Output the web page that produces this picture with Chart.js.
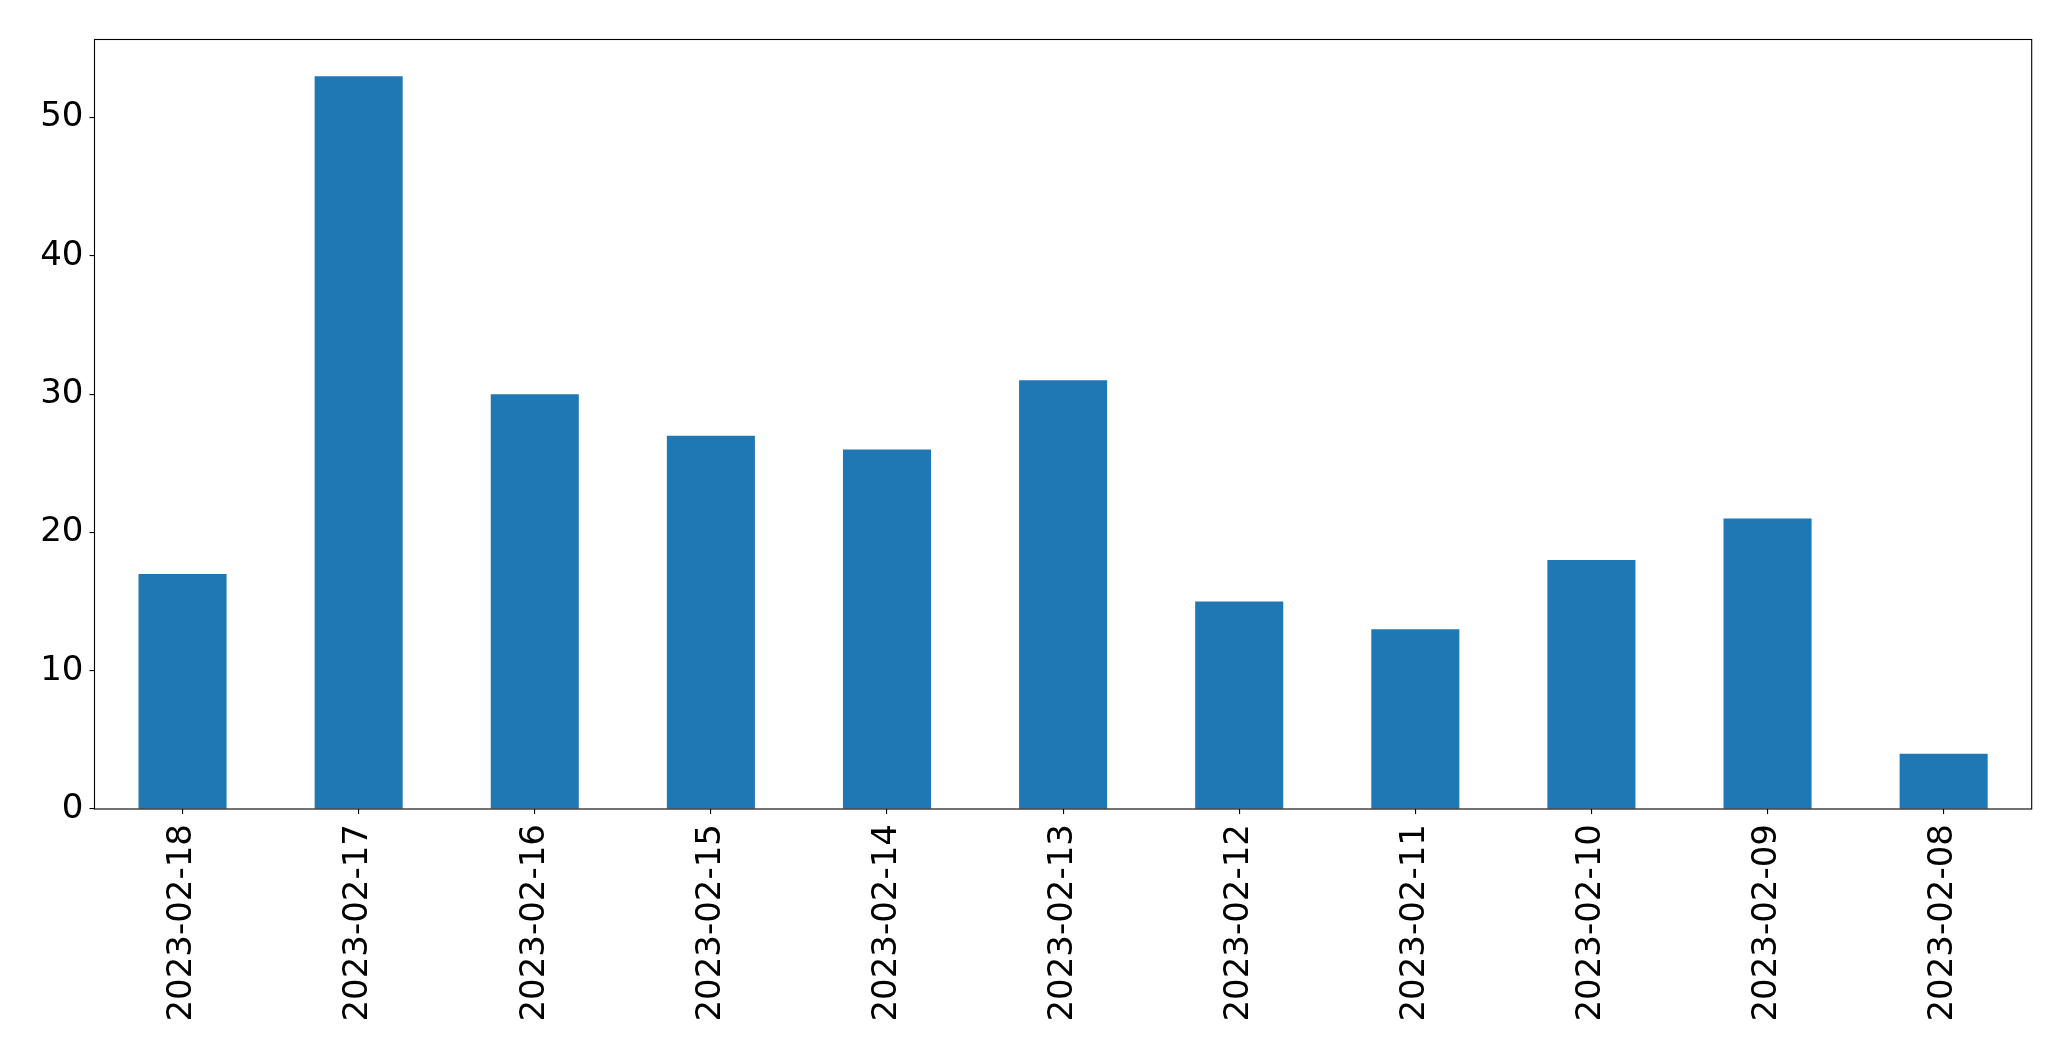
<!DOCTYPE html>
<html>
<head>
<meta charset="utf-8">
<script src="https://cdn.jsdelivr.net/npm/chart.js@4/dist/chart.umd.min.js"></script>
<style>
  html, body { margin: 0; padding: 0; background: #fff; }
  #wrap { width: 2071px; height: 1061px; }
</style>
</head>
<body>
<div id="wrap"><canvas id="chart" width="2071" height="1061"></canvas></div>
<script>
// datos
var categories = ['2023-02-18', '2023-02-17', '2023-02-16', '2023-02-15', '2023-02-14',
                  '2023-02-13', '2023-02-12', '2023-02-11', '2023-02-10', '2023-02-09', '2023-02-08'];
var counts = [17, 53, 30, 27, 26, 31, 15, 13, 18, 21, 4];
var yTicks = [0, 10, 20, 30, 40, 50];
var yMax = 55.65;

// marco completo alrededor del area (como matplotlib)
var framePlugin = {
    id: 'frame',
    afterDraw: function(chart) {
        var a = chart.chartArea;
        var ctx = chart.ctx;
        ctx.save();
        ctx.strokeStyle = '#000';
        ctx.lineWidth = 1.1;
        ctx.strokeRect(a.left, a.top, a.right - a.left, a.bottom - a.top);
        ctx.restore();
    }
};

var ctx = document.getElementById('chart').getContext('2d');
var chart = new Chart(ctx, {
    type: 'bar',
    data: {
        labels: categories,
        datasets: [{
            data: counts,
            backgroundColor: '#1f77b4',
            borderWidth: 0,
            barPercentage: 0.5,
            categoryPercentage: 1.0
        }]
    },
    options: {
        responsive: false,
        animation: false,
        layout: { padding: { top: 39.5, right: 39.3, left: 0, bottom: 0 } },
        plugins: {
            legend: { display: false },
            tooltip: { enabled: false }
        },
        scales: {
            x: {
                offset: true,
                border: { display: false },
                grid: {
                    offset: false,
                    drawOnChartArea: false,
                    drawTicks: true,
                    tickLength: 5,
                    tickColor: '#000',
                    lineWidth: 1.1
                },
                ticks: {
                    color: '#000',
                    font: { family: 'DejaVu Sans', size: 34 },
                    minRotation: 90,
                    maxRotation: 90,
                    autoSkip: false,
                    padding: 10
                },
                afterFit: function(scale) { scale.height = 252; }
            },
            y: {
                min: 0,
                max: yMax,
                border: { display: false },
                grid: {
                    drawOnChartArea: false,
                    drawTicks: true,
                    tickLength: 5,
                    tickColor: '#000',
                    lineWidth: 1.1
                },
                ticks: {
                    color: '#000',
                    font: { family: 'DejaVu Sans', size: 34 },
                    padding: 6
                },
                afterBuildTicks: function(scale) {
                    scale.ticks = yTicks.map(function(v) { return { value: v }; });
                },
                afterFit: function(scale) { scale.width = 94.5; }
            }
        }
    },
    plugins: [framePlugin]
});
</script>
</body>
</html>
